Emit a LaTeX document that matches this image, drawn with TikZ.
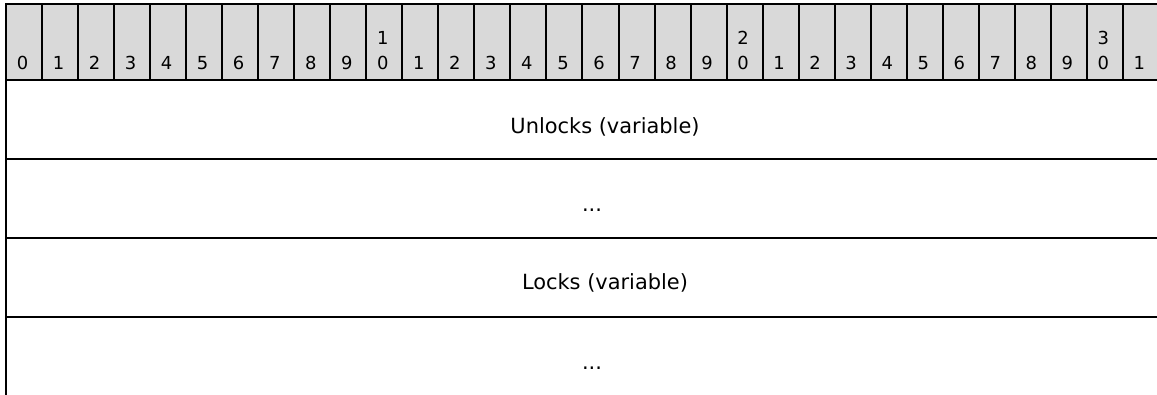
\documentclass[tikz,border=0pt]{standalone}
\usepackage{fontspec}
\setmainfont{DejaVu Sans}
\definecolor{hdr}{RGB}{217,217,217}
\begin{document}
\begin{tikzpicture}[x=1bp,y=-1bp,
  hcell/.style={draw=black,line width=2bp,fill=hdr,minimum width=36.03bp,minimum height=76.5bp,inner sep=0,outer sep=0,anchor=north west},
  rowbox/.style={draw=black,line width=2bp,minimum width=1153bp,minimum height=79bp,inner sep=0,outer sep=0,anchor=north west},
  hlabel/.style={inner sep=0,anchor=south,font=\fontsize{18}{25}\selectfont,align=center,text depth=0pt},
  rowlabel/.style={inner sep=0,anchor=base,font=\fontsize{21}{25}\selectfont}]
\useasboundingbox (0,0) rectangle (1157,394);
\clip (0,0) rectangle (1157,394);
\fill[white] (0,0) rectangle (1157,394);
\foreach \i in {0,...,31} { \node[hcell] (h\i) at ({6+36.03*\i},3.5) {}; }
\foreach \t [count=\i from 0] in {0,1,2,3,4,5,6,7,8,9,{1\\0},1,2,3,4,5,6,7,8,9,{2\\0},1,2,3,4,5,6,7,8,9,{3\\0},1}
  { \node[hlabel] (l\i) at ({6+36.03*\i+16.5},70) {\t}; }
\node[rowbox] (r1) at (6,80) {};
\node[rowbox] (r2) at (6,159) {};
\node[rowbox] (r3) at (6,238) {};
\node[rowbox] (r4) at (6,317) {};
\node[rowlabel] (t1) at (605,133) {Unlocks (variable)};
\node[rowlabel] (t2) at (592,211) {...};
\node[rowlabel] (t3) at (605,289) {Locks (variable)};
\node[rowlabel] (t4) at (592,369) {...};
\end{tikzpicture}
\end{document}
